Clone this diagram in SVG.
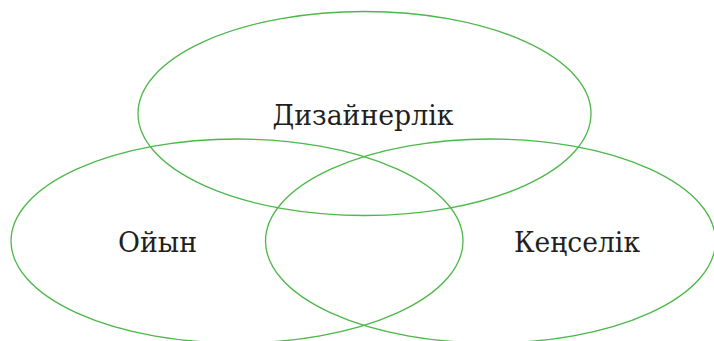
<svg xmlns="http://www.w3.org/2000/svg" width="714" height="341" viewBox="0 0 714 341">
<style>
.e{fill:none;stroke:#4cb848;stroke-width:1.3}
.t{font-family:"DejaVu Serif","Liberation Serif",serif;font-size:27px;fill:#231f20;text-anchor:middle}
</style>
<rect width="714" height="341" fill="#fff"/>
<g id="dizainerlik"><ellipse class="e" cx="364.5" cy="113.5" rx="226.5" ry="102"/><text class="t" x="363" y="125" textLength="181" lengthAdjust="spacingAndGlyphs">Дизайнерлік</text></g>
<g id="oiyn"><ellipse class="e" cx="237" cy="241" rx="226" ry="102"/><text class="t" x="157.5" y="252" textLength="79" lengthAdjust="spacingAndGlyphs">Ойын</text></g>
<g id="kenselik"><ellipse class="e" cx="490.5" cy="241" rx="225" ry="102"/><text class="t" x="577" y="252" textLength="126" lengthAdjust="spacingAndGlyphs">Кеңселік</text></g>
<g id="connectors"/>
</svg>
